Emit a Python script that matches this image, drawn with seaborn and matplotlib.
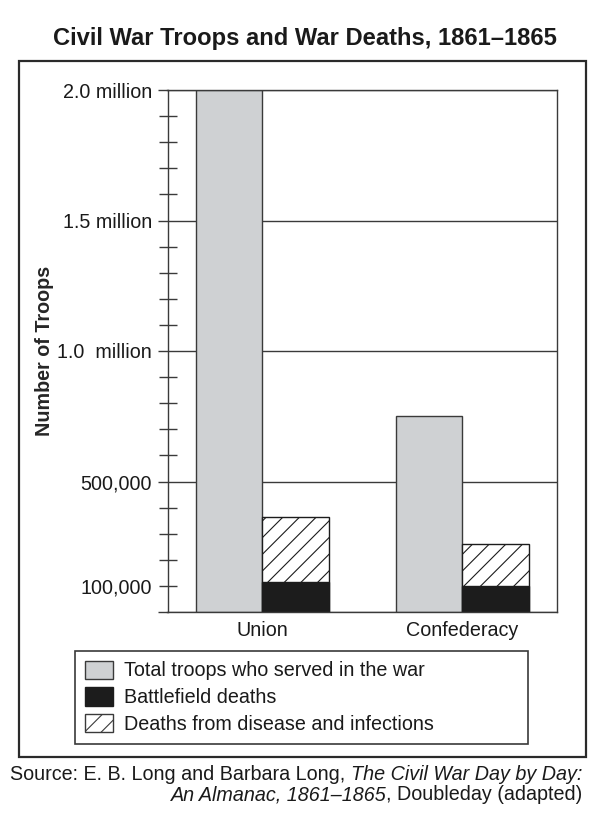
import numpy as np
import pandas as pd
import matplotlib
matplotlib.use("Agg")
import matplotlib.pyplot as plt
import seaborn as sns
from matplotlib.patches import Patch, Rectangle
from matplotlib.ticker import FixedLocator, FixedFormatter

# values
categories = ["Union", "Confederacy"]
total_troops = [2000000, 750000]
battlefield_deaths = [115000, 99000]
disease_deaths = [248000, 163000]

y_major_ticks = [0, 500000, 1000000, 1500000, 2000000]
y_major_labels = ["", "500,000", "1.0  million", "1.5 million", "2.0 million"]
y_minor_ticks = [100000, 200000, 300000, 400000, 600000, 700000, 800000, 900000,
                 1100000, 1200000, 1300000, 1400000, 1600000, 1700000, 1800000, 1900000]
y_minor_labels = ["100,000"] + [""] * 15

legend_labels = ["Total troops who served in the war", "Battlefield deaths",
                 "Deaths from disease and infections"]

GRAY = "#cfd1d3"
BLACK = "#1c1c1c"
LINE = "#3a3a3a"
FS = 14.2

sns.set_theme(style="white")
plt.rcParams["font.family"] = ["Liberation Sans", "DejaVu Sans"]
plt.rcParams["hatch.linewidth"] = 0.8
plt.rcParams["hatch.color"] = BLACK

kinds = ["total", "deaths"]
top_layer = pd.DataFrame({
    "side": categories * 2,
    "kind": ["total"] * 2 + ["deaths"] * 2,
    "value": total_troops + [b + d for b, d in zip(battlefield_deaths, disease_deaths)],
})
base_layer = pd.DataFrame({
    "side": categories * 2,
    "kind": ["total"] * 2 + ["deaths"] * 2,
    "value": [np.nan, np.nan] + battlefield_deaths,
})

fig = plt.figure(figsize=(6.13, 8.18), dpi=100)
ax = fig.add_axes([167.5 / 613, 206 / 818, 389.5 / 613, 522 / 818])

sns.barplot(top_layer, x="side", y="value", hue="kind", hue_order=kinds,
            palette={"total": GRAY, "deaths": "white"}, width=0.667, saturation=1,
            edgecolor=LINE, linewidth=1, legend=False, ax=ax, order=categories)
for bar in ax.containers[1]:
    bar.set_hatch("//")
    bar.set_edgecolor(BLACK)

sns.barplot(base_layer, x="side", y="value", hue="kind", hue_order=kinds,
            palette={"total": GRAY, "deaths": BLACK}, width=0.667, saturation=1,
            edgecolor=BLACK, linewidth=1, legend=False, ax=ax, order=categories)

ax.set_xlim(-0.475, 1.475)
ax.set_ylim(0, 2000000)
ax.set_xlabel("")
ax.set_ylabel("Number of Troops", fontsize=FS, fontweight="bold")
ax.yaxis.set_label_coords(-113 / 389.5, 0.5)

ax.yaxis.set_major_locator(FixedLocator(y_major_ticks))
ax.yaxis.set_major_formatter(FixedFormatter(y_major_labels))
ax.yaxis.set_minor_locator(FixedLocator(y_minor_ticks))
ax.yaxis.set_minor_formatter(FixedFormatter(y_minor_labels))
ax.tick_params(axis="y", which="major", left=True, direction="out", length=7.5, width=1,
               color=LINE, pad=3.8, labelsize=FS, labelcolor="#1a1a1a")
ax.tick_params(axis="y", which="minor", left=True, direction="inout", length=13.4, width=1,
               color=LINE, pad=4.8, labelsize=FS, labelcolor="#1a1a1a")
ax.tick_params(axis="x", length=0, pad=6.5, labelsize=FS, labelcolor="#1a1a1a")
ax.yaxis.grid(True, which="major", color=LINE, linewidth=1)
ax.set_axisbelow(True)
for s in ax.spines.values():
    s.set_color(LINE)
    s.set_linewidth(1)

handles = [
    Patch(facecolor=GRAY, edgecolor=LINE, linewidth=1),
    Patch(facecolor=BLACK, edgecolor=BLACK, linewidth=1),
    Patch(facecolor="white", edgecolor=LINE, linewidth=1, hatch="//"),
]
leg = fig.legend(handles, legend_labels, loc="upper left",
                 bbox_to_anchor=(75.4 / 613, 1 - 743 / 818, 452.4 / 613, 92.3 / 818),
                 mode="expand", borderaxespad=0, fontsize=FS, handlelength=1.4,
                 handleheight=1.05, handletextpad=0.55, labelspacing=0.35, borderpad=0.5,
                 fancybox=False, framealpha=1, edgecolor=LINE)
leg.get_frame().set_linewidth(1.2)
for t in leg.get_texts():
    t.set_color("#1a1a1a")

fig.add_artist(Rectangle((18.8 / 613, 1 - 756.7 / 818), 566.8 / 613, 695.7 / 818,
                         transform=fig.transFigure, fill=False, edgecolor="#2a2a2a",
                         linewidth=1.6))

fig.text(305 / 613, 1 - 38 / 818, "Civil War Troops and War Deaths, 1861\u20131865",
         ha="center", va="center", fontsize=17.1, fontweight="bold", color="#1a1a1a")

# source line, mixed regular / italic, laid out right to left
renderer = fig.canvas.get_renderer()


def text_run(parts, x_right, y):
    x = x_right
    for txt, style in reversed(parts):
        t = fig.text(x, y, txt, ha="right", va="center", fontsize=FS,
                     style=style, color="#1a1a1a")
        bb = t.get_window_extent(renderer)
        x = bb.x0 / fig.bbox.width


text_run([("Source: E. B. Long and Barbara Long, ", "normal"),
          ("The Civil War Day by Day:", "italic")], 582.5 / 613, 1 - 775 / 818)
text_run([("An Almanac, 1861\u20131865", "italic"),
          (", Doubleday (adapted)", "normal")], 582.5 / 613, 1 - 795 / 818)

fig.savefig("out.png", dpi=100)
